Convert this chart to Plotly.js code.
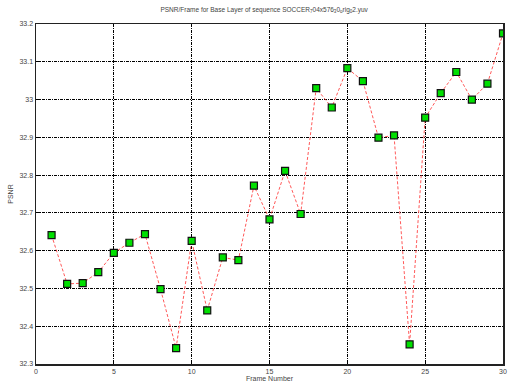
<!DOCTYPE html>
<html>
<head>
<meta charset="utf-8">
<script src="https://cdn.plot.ly/plotly-3.0.1.min.js"></script>
<style>html,body{margin:0;padding:0;background:#fff;}#chart{width:508px;height:387px;}</style>
</head>
<body>
<div id="chart"></div>
<script>
const frames = [1,2,3,4,5,6,7,8,9,10,11,12,13,14,15,16,17,18,19,20,21,22,23,24,25,26,27,28,29,30];
const psnr = [32.641,32.512,32.514,32.543,32.594,32.621,32.644,32.498,32.342,32.626,
              32.442,32.582,32.575,32.772,32.683,32.811,32.697,33.030,32.979,33.083,
              33.049,32.899,32.905,32.352,32.952,33.017,33.073,33.000,33.042,33.175];
const xTicks = [0,5,10,15,20,25,30];
const yTicks = [32.3,32.4,32.5,32.6,32.7,32.8,32.9,33.0,33.1,33.2];
const yTickText = ['32.3','32.4','32.5','32.6','32.7','32.8','32.9','33','33.1','33.2'];
const chartTitle = 'PSNR/Frame for Base Layer of sequence SOCCER<sub>7</sub>04x576<sub>3</sub>0<sub>o</sub>rig<sub>0</sub>2.yuv';

const font = {family:'Liberation Sans, Arial, sans-serif', size:7, color:'#444'};
Plotly.newPlot('chart', [{
  x: frames, y: psnr, type:'scatter', mode:'lines+markers',
  line:{color:'rgba(255,60,60,0.85)', width:1, dash:'3px,2px'},
  marker:{symbol:'square', size:7, color:'#00e000', line:{color:'#111', width:1.2}}
}], {
  width:508, height:387,
  margin:{l:36, r:5, t:24, b:23},
  paper_bgcolor:'#fff', plot_bgcolor:'#fff',
  showlegend:false,
  font: font,
  title:{text:chartTitle, font:{family:font.family, size:6.5, color:'#444'}, x:0.52, xanchor:'center', y:0.975, yanchor:'middle'},
  xaxis:{range:[0,30], tickvals:xTicks, ticktext:xTicks.map(String), showgrid:true, gridcolor:'#000', griddash:'3px,1px,1px,1px', gridwidth:1,
         showline:true, linecolor:'#222', linewidth:1.5, mirror:true, zeroline:false, ticks:'inside', ticklen:4, tickcolor:'#000',
         tickfont:font, title:{text:'Frame Number', font:font, standoff:2}},
  yaxis:{range:[32.3,33.2], tickvals:yTicks, ticktext:yTickText, showgrid:true, gridcolor:'#000', griddash:'3px,1px,1px,1px', gridwidth:1,
         showline:true, linecolor:'#222', linewidth:1.5, mirror:true, zeroline:false, ticks:'inside', ticklen:4, tickcolor:'#000',
         tickfont:font, title:{text:'PSNR', font:font, standoff:5}}
}, {displayModeBar:false, staticPlot:true});
</script>
</body>
</html>
